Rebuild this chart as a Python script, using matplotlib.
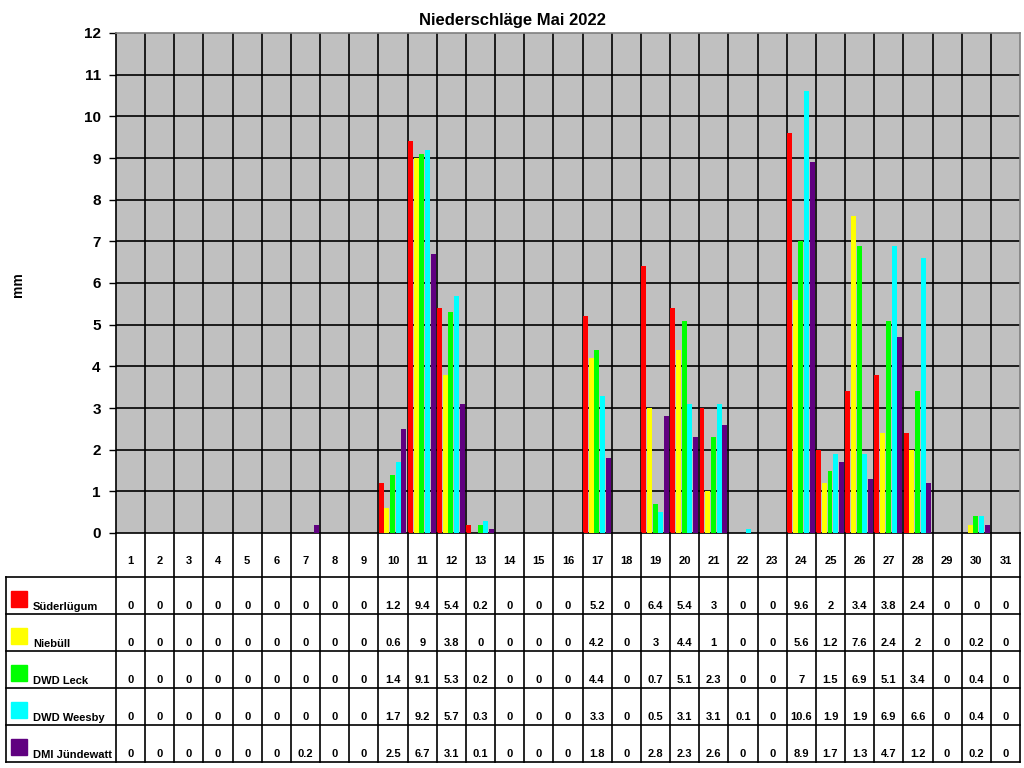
"""Niederschläge Mai 2022 - Balken mit Datentabelle"""

import matplotlib
matplotlib.use("Agg")
import matplotlib.pyplot as plt
import numpy as np

plt.rcParams['font.family'] = ['Liberation Sans', 'DejaVu Sans']
plt.rcParams['font.weight'] = 'bold'

days = list(range(1, 32))

stations = ["Süderlügum", "Niebüll", "DWD Leck", "DWD Weesby", "DMI Jündewatt"]
colors = ["#FF0000", "#FFFF00", "#00FF00", "#00FFFF", "#600080"]

suederluegum = [0, 0, 0, 0, 0, 0, 0, 0, 0, 1.2, 9.4, 5.4, 0.2, 0, 0, 0, 5.2, 0,
                6.4, 5.4, 3, 0, 0, 9.6, 2, 3.4, 3.8, 2.4, 0, 0, 0]
niebuell = [0, 0, 0, 0, 0, 0, 0, 0, 0, 0.6, 9, 3.8, 0, 0, 0, 0, 4.2, 0,
            3, 4.4, 1, 0, 0, 5.6, 1.2, 7.6, 2.4, 2, 0, 0.2, 0]
leck = [0, 0, 0, 0, 0, 0, 0, 0, 0, 1.4, 9.1, 5.3, 0.2, 0, 0, 0, 4.4, 0,
        0.7, 5.1, 2.3, 0, 0, 7, 1.5, 6.9, 5.1, 3.4, 0, 0.4, 0]
weesby = [0, 0, 0, 0, 0, 0, 0, 0, 0, 1.7, 9.2, 5.7, 0.3, 0, 0, 0, 3.3, 0,
          0.5, 3.1, 3.1, 0.1, 0, 10.6, 1.9, 1.9, 6.9, 6.6, 0, 0.4, 0]
juendewatt = [0, 0, 0, 0, 0, 0, 0.2, 0, 0, 2.5, 6.7, 3.1, 0.1, 0, 0, 0, 1.8, 0,
              2.8, 2.3, 2.6, 0, 0, 8.9, 1.7, 1.3, 4.7, 1.2, 0, 0.2, 0]

series = [suederluegum, niebuell, leck, weesby, juendewatt]

W, H = 1024, 768
fig = plt.figure(figsize=(W / 100, H / 100), dpi=100)

# plot area in pixels
px_l, px_r, px_t, px_b = 116, 1020, 33, 533
ax = fig.add_axes([px_l / W, 1 - px_b / H, (px_r - px_l) / W, (px_b - px_t) / H])
ax.set_facecolor("#C0C0C0")

n = len(days)
step = 0.195
width = 0.17
x0 = np.arange(n)
for j, (vals, c) in enumerate(zip(series, colors)):
    ax.bar(x0 + 0.01 + j * step, vals, width=width, align='edge', color=c,
           zorder=3, linewidth=0)

ax.set_xlim(0, n)
ax.set_ylim(0, 12)
ax.set_yticks(range(0, 13))
ax.set_yticklabels([str(v) for v in range(0, 13)], fontsize=11, fontweight='bold')
ax.tick_params(axis='y', direction='out', length=5, width=1, color='black', pad=6)
ax.set_xticks([])
for y in range(1, 12):
    ax.axhline(y, color='black', lw=1.2, zorder=2)
for x in range(1, n):
    ax.axvline(x, color='black', lw=1.2, zorder=2)
for s in ['top', 'right']:
    ax.spines[s].set_color('#808080')
ax.spines['left'].set_color('black')
ax.spines['bottom'].set_color('black')
for s in ax.spines.values():
    s.set_linewidth(1.2)

fig.text(18 / W, 1 - 285 / H, "mm", rotation=90, ha='center', va='center',
         fontsize=10, fontweight='bold')
fig.text(0.5, 1 - 20 / H, "Niederschläge Mai 2022", ha='center', va='center',
         fontsize=12, fontweight='bold')

# data table below the chart
tb_l, tb_b = 6, 762
day_w = (px_r - px_l) / n
left_cols = (px_l - tb_l) / day_w
tab = fig.add_axes([tb_l / W, 1 - tb_b / H, (px_r - tb_l) / W, (tb_b - px_b) / H])
tab.set_xlim(-left_cols, n)
tab.set_ylim(tb_b, px_b)
tab.axis('off')

header_h = 44
row_h = (tb_b - px_b - header_h) / len(stations)
row_edges = [px_b + header_h + i * row_h for i in range(len(stations) + 1)]

lc = dict(color='black', lw=1.2, clip_on=False)
for x in range(0, n + 1):
    tab.plot([x, x], [px_b, tb_b], **lc)
for y in row_edges:
    tab.plot([-left_cols, n], [y, y], **lc)
tab.plot([-left_cols, -left_cols], [row_edges[0], tb_b], **lc)

for i, d in enumerate(days):
    tab.text(i + 0.5, px_b + 28, str(d), ha='center', va='center',
             fontsize=8, fontweight='bold')

sq = 16 / day_w
for r, (name, vals, c) in enumerate(zip(stations, series, colors)):
    top = row_edges[r]
    bot = row_edges[r + 1]
    tab.add_patch(plt.Rectangle((-left_cols + 5 / day_w, bot - 23), sq, 16,
                                color=c, clip_on=False))
    tab.text(-left_cols + 27 / day_w, bot - 7, name, ha='left', va='center',
             fontsize=8, fontweight='bold')
    for i, v in enumerate(vals):
        tab.text(i + 0.5, bot - 8, f"{v:g}", ha='center', va='center',
                 fontsize=8, fontweight='bold')

fig.savefig("out.png", dpi=100)
